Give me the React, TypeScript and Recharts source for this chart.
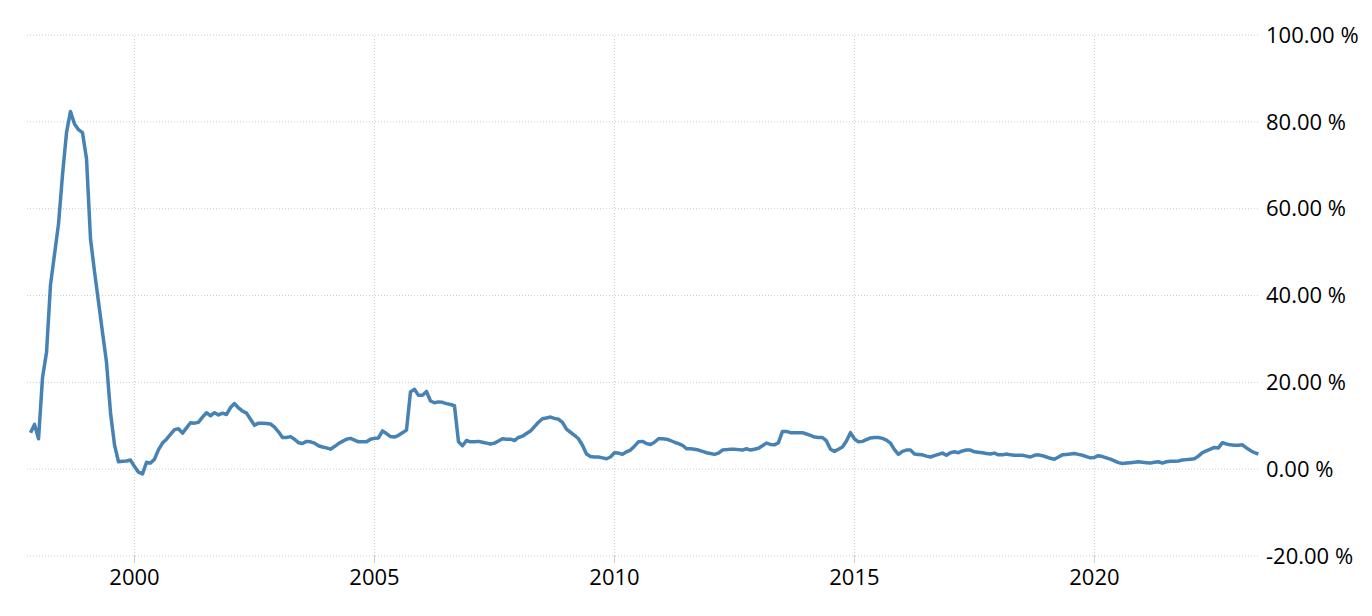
import { LineChart, Line, XAxis, YAxis, CartesianGrid, ReferenceLine } from "recharts";

// monthly inflation rate, first value is November 1997
const FIRST_YEAR = 1997;
const FIRST_MONTH = 11;

const rate1997to1999 = [
  8.4, 10.3, 7.0, 21.1, 26.9, 42.5, 49.5, 56.5, 67.8, 77.5, 82.4, 79.5, 78.2, 77.5,
  71.5, 53, 45.5, 38.5, 31.5, 24.6, 13, 5.6, 1.7, 1.8, 1.9, 2.1,
];
const rate2000to2004 = [
  0.6, -0.7, -1.1, 1.6, 1.4, 2.3, 4.5, 6.0, 6.9, 8.0, 9.1, 9.3,
  8.3, 9.5, 10.7, 10.6, 10.8, 12.0, 13.0, 12.3, 13.0, 12.5, 12.9, 12.6,
  14.2, 15.1, 14.1, 13.4, 12.9, 11.5, 10.1, 10.6, 10.6, 10.5, 10.4, 9.7,
  8.6, 7.3, 7.3, 7.5, 6.9, 6.1, 5.9, 6.4, 6.3, 6.0, 5.4, 5.1,
  4.9, 4.6, 5.2, 5.9, 6.4, 6.9, 7.1, 6.7, 6.3, 6.3, 6.3, 6.9,
];
const rate2005to2009 = [
  7.1, 7.2, 8.8, 8.2, 7.5, 7.4, 7.8, 8.4, 9.0, 17.8, 18.4, 17.0,
  17.0, 17.9, 15.7, 15.3, 15.5, 15.4, 15.1, 14.9, 14.6, 6.3, 5.4, 6.6,
  6.3, 6.3, 6.4, 6.2, 6.0, 5.8, 6.0, 6.5, 7.0, 6.9, 6.9, 6.6,
  7.3, 7.6, 8.2, 8.8, 9.8, 10.8, 11.6, 11.8, 12.0, 11.7, 11.5, 10.8,
  9.2, 8.5, 7.8, 7.0, 5.5, 3.5, 2.9, 2.8, 2.8, 2.6, 2.4, 2.8,
];
const rate2010to2014 = [
  3.8, 3.7, 3.4, 4.0, 4.4, 5.3, 6.3, 6.4, 5.9, 5.7, 6.2, 7.0,
  7.0, 6.9, 6.6, 6.2, 5.9, 5.5, 4.7, 4.7, 4.6, 4.4, 4.1, 3.8,
  3.6, 3.4, 3.7, 4.4, 4.5, 4.6, 4.6, 4.5, 4.4, 4.7, 4.4, 4.6,
  4.8, 5.4, 6.0, 5.7, 5.6, 6.1, 8.7, 8.7, 8.4, 8.4, 8.4, 8.4,
  8.1, 7.8, 7.4, 7.3, 7.3, 6.5, 4.6, 4.1, 4.6, 5.1, 6.5, 8.4,
];
const rate2015to2019 = [
  7.0, 6.3, 6.4, 6.8, 7.2, 7.3, 7.3, 7.1, 6.7, 6.0, 4.5, 3.4,
  4.1, 4.4, 4.4, 3.5, 3.4, 3.3, 3.0, 2.8, 3.1, 3.4, 3.7, 3.2,
  3.8, 4.0, 3.8, 4.2, 4.4, 4.4, 4.0, 3.9, 3.8, 3.6, 3.5, 3.7,
  3.3, 3.3, 3.5, 3.3, 3.2, 3.2, 3.2, 3.0, 2.8, 3.2, 3.3, 3.1,
  2.8, 2.5, 2.3, 2.8, 3.3, 3.4, 3.5, 3.6, 3.4, 3.2, 2.9, 2.6,
];
const rate2020to2023 = [
  2.7, 3.1, 2.9, 2.6, 2.3, 1.9, 1.5, 1.3, 1.4, 1.5, 1.6, 1.7,
  1.6, 1.5, 1.4, 1.6, 1.7, 1.4, 1.7, 1.8, 1.8, 1.9, 2.1, 2.2,
  2.3, 2.4, 3.0, 3.8, 4.2, 4.6, 5.0, 4.9, 6.1, 5.8, 5.6, 5.5,
  5.5, 5.6, 4.9, 4.3, 3.8, 3.5,
];

const yearTicks = [2000, 2005, 2010, 2015, 2020];
const percentTicks = [-20, 0, 20, 40, 60, 80, 100];

const monthly = [
  ...rate1997to1999,
  ...rate2000to2004,
  ...rate2005to2009,
  ...rate2010to2014,
  ...rate2015to2019,
  ...rate2020to2023,
];

const data = monthly.map((value, i) => ({
  t: FIRST_YEAR + (FIRST_MONTH - 1 + i) / 12,
  value,
}));

const FONT = "'Open Sans', 'Liberation Sans', Arial, sans-serif";
const LINE_COLOR = "#4682b4";
const GRID_COLOR = "#cccccc";

export default function App() {
  return (
    <div style={{ fontFamily: FONT }}>
      <LineChart width={1364} height={600} data={data} margin={{ top: 27, right: 0, bottom: 0, left: 19 }}>
        {/* horizontal grid only; year lines below so the plot edges stay open */}
        <CartesianGrid stroke={GRID_COLOR} strokeDasharray="1 2" vertical={false} />
        {yearTicks.map((t) => (
          <ReferenceLine key={t} x={t} stroke={GRID_COLOR} strokeDasharray="1 2" />
        ))}
        <XAxis
          type="number"
          dataKey="t"
          domain={[1997.76, 2023.45]}
          ticks={yearTicks}
          allowDataOverflow
          height={52}
          axisLine={false}
          tickLine={{ stroke: GRID_COLOR }}
          tickSize={7}
          tickMargin={6}
          tick={{ fill: "#000", fontSize: 22, fontFamily: FONT }}
        />
        <YAxis
          orientation="right"
          domain={[-20, 100]}
          ticks={percentTicks}
          width={112}
          axisLine={false}
          tickLine={false}
          tickSize={0}
          tickMargin={6}
          tickFormatter={(v: number) => `${v.toFixed(2)} %`}
          tick={{ fill: "#000", fontSize: 22, fontFamily: FONT }}
        />
        <Line
          type="linear"
          dataKey="value"
          stroke={LINE_COLOR}
          strokeWidth={3.5}
          strokeLinejoin="round"
          dot={false}
          isAnimationActive={false}
        />
      </LineChart>
    </div>
  );
}
